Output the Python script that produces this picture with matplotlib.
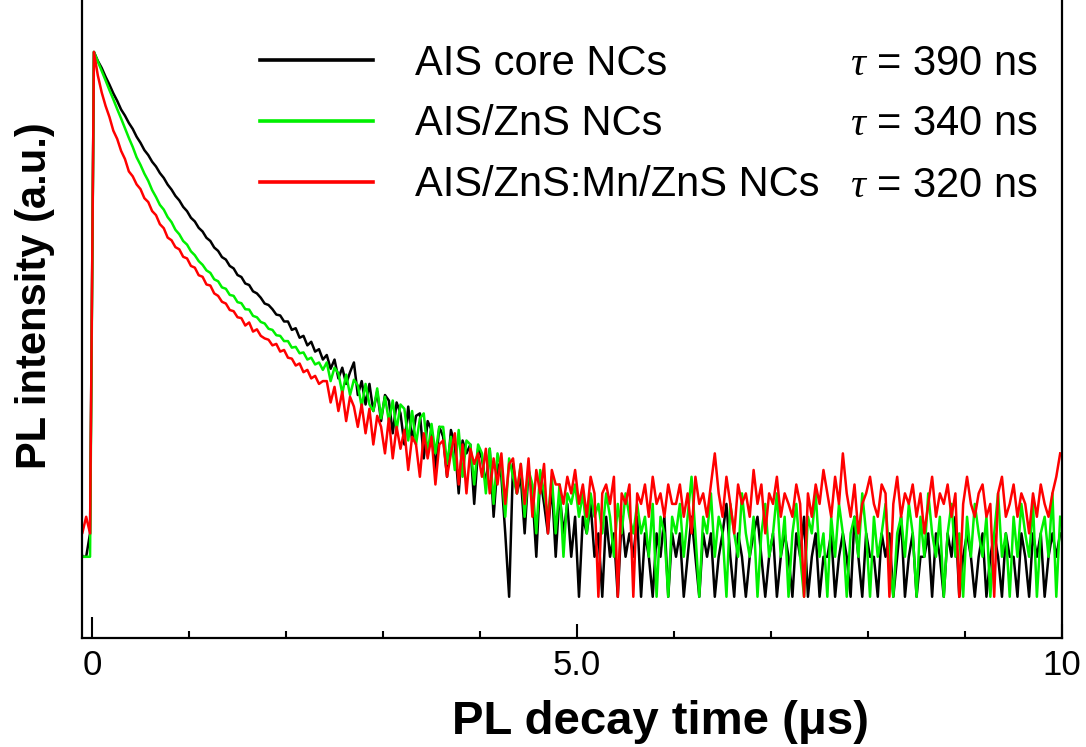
import numpy as np
import matplotlib
matplotlib.use("Agg")
import matplotlib.pyplot as plt
from matplotlib.ticker import FixedLocator

plt.rcParams['font.family'] = ['Liberation Sans', 'DejaVu Sans']
plt.rcParams['mathtext.fontset'] = 'custom'
plt.rcParams['mathtext.it'] = 'Liberation Serif:italic'
plt.rcParams['mathtext.rm'] = 'Liberation Sans'

# PL decay counts, 0.04 us bins starting at -0.14 us
black = [3, 2, 2, 3,
	12600, 10800, 9550, 8200, 7150, 6150, 5400, 4650, 4180, 3680,
	3320, 2900, 2610, 2300, 2110, 1880, 1730, 1545, 1420, 1265,
	1160, 1040, 962, 860, 798, 712, 668, 598, 561, 503,
	476, 425, 401, 360, 345, 309, 296, 264, 255, 228,
	222, 199, 192, 178, 161, 157, 146, 133, 131, 118,
	118, 102, 105, 89, 92, 78, 83, 70, 73, 61,
	66, 52, 61, 44, 53, 40, 49, 58, 33, 42,
	28, 40, 25, 35, 21, 33, 30, 17, 29, 24,
	14, 27, 15, 23, 24, 11, 21, 18, 9, 19,
	16, 8, 18, 14, 6, 15, 12, 14, 5, 13,
	11, 7, 13, 4, 10, 8, 3, 1, 10, 6,
	8, 3, 9, 6, 2, 8, 5, 3, 7, 2,
	6, 3, 5, 2, 4, 1, 4, 3, 5, 2,
	3, 1, 4, 2, 3, 1, 4, 2, 3, 2,
	4, 1, 3, 2, 1, 3, 2, 4, 1, 3,
	2, 3, 1, 2, 4, 2, 1, 3, 2, 3,
	1, 2, 3, 5, 2, 1, 3, 2, 1, 2,
	3, 4, 2, 1, 2, 3, 1, 2, 3, 2,
	1, 3, 2, 4, 1, 2, 3, 1, 2, 2,
	3, 1, 2, 3, 2, 1, 4, 2, 1, 3,
	2, 2, 1, 3, 2, 3, 1, 2, 4, 1,
	2, 3, 1, 2, 2, 3, 1, 3, 2, 1,
	3, 2, 4, 1, 2, 3, 2, 1, 2, 3,
	1, 2, 3, 2, 1, 3, 2, 2, 1, 3,
	2, 1, 3, 2, 3, 1, 2, 3, 2, 3]

green = [2, 2, 2, 2,
	12600, 10700, 9050, 7700, 6500, 5540, 4680, 3980, 3360, 2840,
	2430, 2030, 1780, 1530, 1350, 1150, 1020, 890, 820, 720,
	660, 578, 535, 476, 447, 398, 372, 336, 315, 286,
	274, 245, 237, 213, 208, 187, 184, 165, 162, 146,
	145, 130, 127, 117, 114, 104, 102, 93, 92, 84,
	84, 75, 76, 68, 69, 61, 63, 56, 58, 51,
	58, 42, 53, 48, 34, 47, 33, 43, 39, 27,
	40, 28, 25, 37, 22, 32, 21, 30, 18, 28,
	26, 15, 25, 14, 22, 24, 12, 20, 12, 19,
	19, 10, 16, 9, 18, 8, 15, 14, 7, 14,
	12, 6, 13, 5, 12, 9, 4, 11, 8, 6,
	10, 4, 9, 7, 3, 9, 6, 4, 8, 3,
	7, 2, 6, 5, 7, 4, 6, 3, 6, 4,
	5, 3, 6, 4, 2, 5, 3, 6, 4, 3,
	5, 3, 4, 2, 5, 1, 4, 3, 1, 4,
	3, 5, 2, 4, 8, 3, 1, 4, 3, 6,
	2, 4, 3, 1, 5, 3, 2, 6, 3, 2,
	4, 1, 3, 5, 2, 3, 6, 2, 4, 1,
	3, 5, 2, 1, 4, 3, 6, 2, 3, 1,
	4, 2, 5, 3, 1, 3, 4, 2, 6, 3,
	1, 4, 2, 3, 5, 2, 1, 3, 4, 2,
	5, 3, 1, 4, 2, 6, 3, 2, 4, 1,
	3, 5, 2, 3, 1, 4, 2, 5, 3, 2,
	4, 1, 3, 6, 2, 3, 1, 4, 2, 5,
	3, 2, 5, 1, 3, 4, 2, 6, 1, 4]

red = [5, 3, 4, 3,
	12600, 8400, 6250, 4950, 4080, 3220, 2790, 2270, 1970, 1590,
	1460, 1270, 1170, 1000, 935, 800, 745, 637, 594, 505,
	482, 428, 412, 362, 352, 309, 300, 263, 256, 224,
	220, 192, 184, 166, 161, 144, 141, 127, 125, 110,
	116, 99, 103, 92, 88, 86, 78, 80, 70, 72,
	63, 62, 55, 57, 49, 51, 44, 46, 40, 42,
	42, 29, 38, 25, 35, 21, 32, 27, 19, 28,
	17, 26, 14, 23, 19, 12, 22, 11, 19, 13,
	18, 9, 16, 14, 8, 17, 11, 16, 7, 14,
	15, 8, 12, 17, 7, 14, 6, 13, 10, 12,
	8, 13, 6, 11, 7, 12, 5, 10, 11, 6,
	10, 5, 11, 4, 9, 6, 10, 3, 9, 7,
	7, 5, 8, 6, 9, 5, 7, 4, 8, 6,
	1, 6, 7, 5, 8, 1, 6, 5, 7, 1,
	6, 5, 7, 4, 8, 5, 6, 4, 7, 5,
	5, 7, 4, 6, 3, 8, 5, 6, 4, 7,
	12, 6, 4, 8, 5, 3, 7, 5, 6, 4,
	9, 5, 7, 3, 6, 5, 8, 4, 6, 5,
	4, 7, 5, 1, 6, 4, 7, 5, 9, 6,
	4, 8, 5, 12, 6, 4, 7, 3, 5, 6,
	8, 5, 4, 7, 6, 1, 5, 8, 4, 6,
	5, 7, 4, 6, 3, 5, 8, 4, 6, 5,
	7, 4, 6, 1, 5, 8, 5, 4, 6, 7,
	4, 5, 1, 6, 8, 4, 5, 7, 4, 6,
	5, 3, 6, 4, 7, 5, 4, 6, 8, 12]

labels = ["AIS core NCs", "AIS/ZnS NCs", "AIS/ZnS:Mn/ZnS NCs"]
taus = [390, 340, 320]
colors = ["#000000", "#00f000", "#ff0000"]

t0 = -0.14
dt = 0.04

fig = plt.figure(figsize=(10.86, 7.47), dpi=100)
ax = fig.add_axes([0.0755, 0.146, 0.9025, 0.854])

for vals, lab, col in zip([black, green, red], labels, colors):
	t = t0 + dt*np.arange(len(vals))
	ax.plot(t, vals, color=col, lw=1.8, label=lab)

ax.set_yscale('log')
ax.set_ylim(0.49, 31000)
ax.set_xlim(-0.103, 10.0)
ax.yaxis.set_major_locator(FixedLocator([]))
ax.yaxis.set_minor_locator(FixedLocator([]))
ax.set_xticks([0, 5, 10])
ax.set_xticklabels(["0", "5.0", "10"])
ax.set_xticks([1, 2, 3, 4, 6, 7, 8, 9], minor=True)
ax.tick_params(axis='x', which='major', direction='in', length=10, width=1.5,
	labelsize=25, pad=8)
ax.tick_params(axis='x', which='minor', direction='in', length=5, width=1.5)
# the tick at zero is drawn longer in the original
ax.xaxis.get_major_ticks()[0].tick1line.set_markersize(15)
ax.spines['top'].set_visible(False)
for s in ['left', 'right', 'bottom']:
	ax.spines[s].set_linewidth(1.6)

ax.set_xlabel("PL decay time (\u03bcs)", fontsize=34, fontweight='bold')
ax.set_ylabel("PL intensity (a.u.)", fontsize=30, fontweight='bold')
ax.xaxis.set_label_coords(0.59, -0.097)
ax.yaxis.set_label_coords(-0.0276, 0.536)

leg = ax.legend(loc='center left', bbox_to_anchor=(0.182, 0.805), frameon=False,
	fontsize=30, handlelength=2.7, handletextpad=1.0, labelspacing=0.5,
	borderpad=0, borderaxespad=0)
for line in leg.get_lines():
	line.set_linewidth(2.6)

for i, tau in enumerate(taus):
	ax.text(0.784, [0.899, 0.805, 0.709][i], r"$\tau$" + " = %d ns" % tau,
		transform=ax.transAxes, fontsize=30, va='center', ha='left')

fig.savefig("out.png", dpi=100)
